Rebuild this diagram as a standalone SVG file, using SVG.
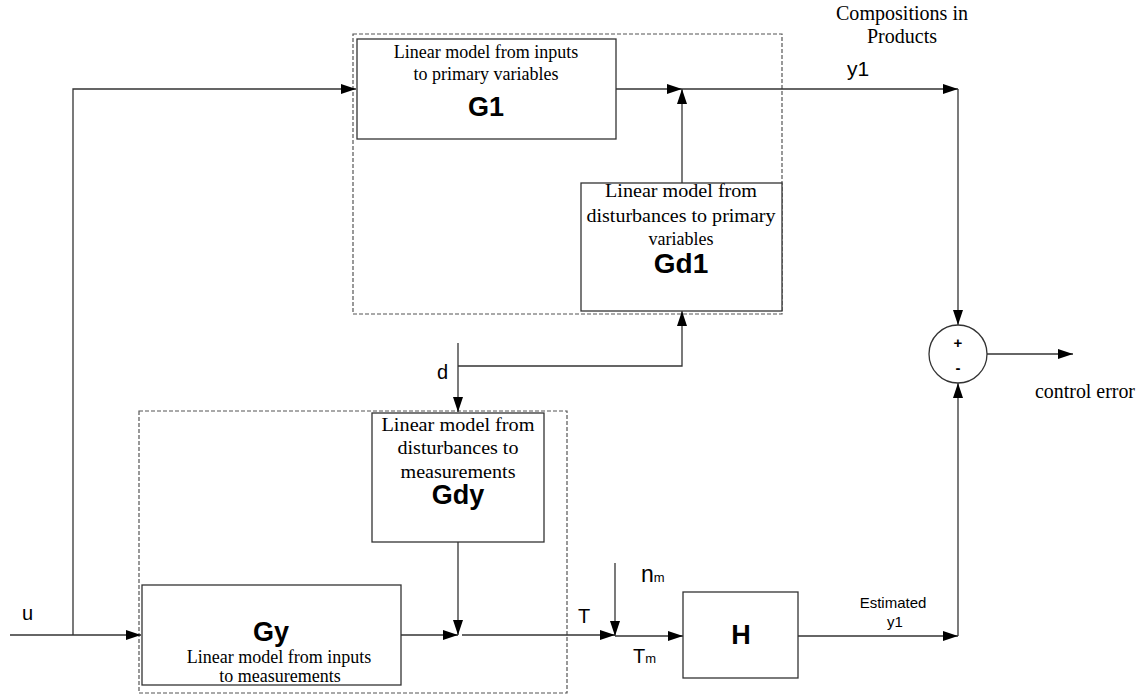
<svg xmlns="http://www.w3.org/2000/svg" width="1143" height="695" viewBox="0 0 1143 695">
<style>
.box{fill:#fff;stroke:#333;stroke-width:1.3}
.dash{fill:none;stroke:#555;stroke-width:1.2;stroke-dasharray:4,2}
.ln{fill:none;stroke:#333;stroke-width:1.3}
.ser{font-family:"Liberation Serif","Times New Roman",serif;font-size:18px;fill:#000;text-anchor:middle}
.bold{font-family:"Liberation Sans",Arial,sans-serif;font-weight:bold;font-size:27px;fill:#000;text-anchor:middle}
.lab{font-family:"Liberation Sans",Arial,sans-serif;font-size:20px;fill:#000}
.sm{font-family:"Liberation Sans",Arial,sans-serif;font-size:15px;fill:#000;text-anchor:middle}
</style>
<defs>
<marker id="ah" markerWidth="15" markerHeight="10" refX="15" refY="5" orient="auto" markerUnits="userSpaceOnUse">
<path d="M0,0 L15,5 L0,10 z" fill="#000"/>
</marker>
</defs>
<rect width="1143" height="695" fill="#fff"/>
<g id="upper-frame"><rect class="dash" x="353" y="34" width="429" height="280"/></g>
<g id="lower-frame"><rect class="dash" x="139" y="411" width="428" height="282"/></g>
<g id="connectors">
<path class="ln" d="M10,635 H141" marker-end="url(#ah)"/>
<path class="ln" d="M73,635 V89 H356" marker-end="url(#ah)"/>
<path class="ln" d="M616,89 H682" marker-end="url(#ah)"/>
<path class="ln" d="M682,89 H958" marker-end="url(#ah)"/>
<path class="ln" d="M682,183 V89" marker-end="url(#ah)"/>
<path class="ln" d="M958,89 V325" marker-end="url(#ah)"/>
<path class="ln" d="M458,343 V412" marker-end="url(#ah)"/>
<path class="ln" d="M458,366 H682 V311" marker-end="url(#ah)"/>
<path class="ln" d="M458,542 V635" marker-end="url(#ah)"/>
<path class="ln" d="M401,635 H458" marker-end="url(#ah)"/>
<path class="ln" d="M462,635 H615" marker-end="url(#ah)"/>
<path class="ln" d="M615,563 V636" marker-end="url(#ah)"/>
<path class="ln" d="M615,636 H683" marker-end="url(#ah)"/>
<path class="ln" d="M798,636 H958" marker-end="url(#ah)"/>
<path class="ln" d="M958,636 V383" marker-end="url(#ah)"/>
<path class="ln" d="M987,354 H1073" marker-end="url(#ah)"/>
</g>
<g id="G1">
<rect class="box" x="357" y="39" width="259" height="100"/>
<text class="ser" x="486" y="58">Linear model from inputs</text>
<text class="ser" x="486" y="80">to primary variables</text>
<text class="bold" x="486" y="116">G1</text>
</g>
<g id="Gd1">
<rect class="box" x="581" y="183" width="201" height="128"/>
<text class="ser" x="681" y="197" textLength="152" lengthAdjust="spacingAndGlyphs">Linear model from</text>
<text class="ser" x="681" y="222" textLength="189" lengthAdjust="spacingAndGlyphs">disturbances to  primary</text>
<text class="ser" x="681" y="245" textLength="65" lengthAdjust="spacingAndGlyphs">variables</text>
<text class="bold" x="681" y="273" style="font-size:28px">Gd1</text>
</g>
<g id="Gdy">
<rect class="box" x="372" y="413" width="172" height="129"/>
<text class="ser" x="458" y="431" textLength="153" lengthAdjust="spacingAndGlyphs">Linear model from</text>
<text class="ser" x="458" y="454" textLength="121" lengthAdjust="spacingAndGlyphs">disturbances to</text>
<text class="ser" x="458" y="478" textLength="115" lengthAdjust="spacingAndGlyphs">measurements</text>
<text class="bold" x="458" y="504">Gdy</text>
</g>
<g id="Gy">
<rect class="box" x="142" y="585" width="259" height="100"/>
<text class="bold" x="271" y="641">Gy</text>
<text class="ser" x="279" y="663">Linear model from inputs</text>
<text class="ser" x="280" y="682">to measurements</text>
</g>
<g id="H">
<rect class="box" x="683" y="592" width="115" height="86"/>
<text class="bold" x="741" y="644">H</text>
</g>
<g id="sum">
<circle cx="958" cy="354" r="29" fill="#fff" stroke="#333" stroke-width="1.3"/>
<text class="sm" x="958" y="348" font-weight="bold">+</text>
<text class="sm" x="958" y="373" font-weight="bold">-</text>
</g>
<g id="labels">
<text class="ser" x="902" y="20" textLength="132" lengthAdjust="spacingAndGlyphs" style="font-size:20px">Compositions in</text>
<text class="ser" x="902" y="43" textLength="70" lengthAdjust="spacingAndGlyphs" style="font-size:20px">Products</text>
<text class="lab" x="847" y="76" style="font-size:21px">y1</text>
<text class="lab" x="437" y="379">d</text>
<text class="lab" x="22" y="620">u</text>
<text class="lab" x="578" y="623">T</text>
<text class="lab" x="641" y="582" style="font-size:23px">n<tspan style="font-size:13px">m</tspan></text>
<text class="lab" x="633" y="663">T<tspan style="font-size:13px">m</tspan></text>
<text class="sm" x="893" y="608">Estimated</text>
<text class="sm" x="895" y="627">y1</text>
<text class="ser" x="1035" y="398" textLength="100" lengthAdjust="spacingAndGlyphs" style="font-size:20px;text-anchor:start">control error</text>
</g>
</svg>
